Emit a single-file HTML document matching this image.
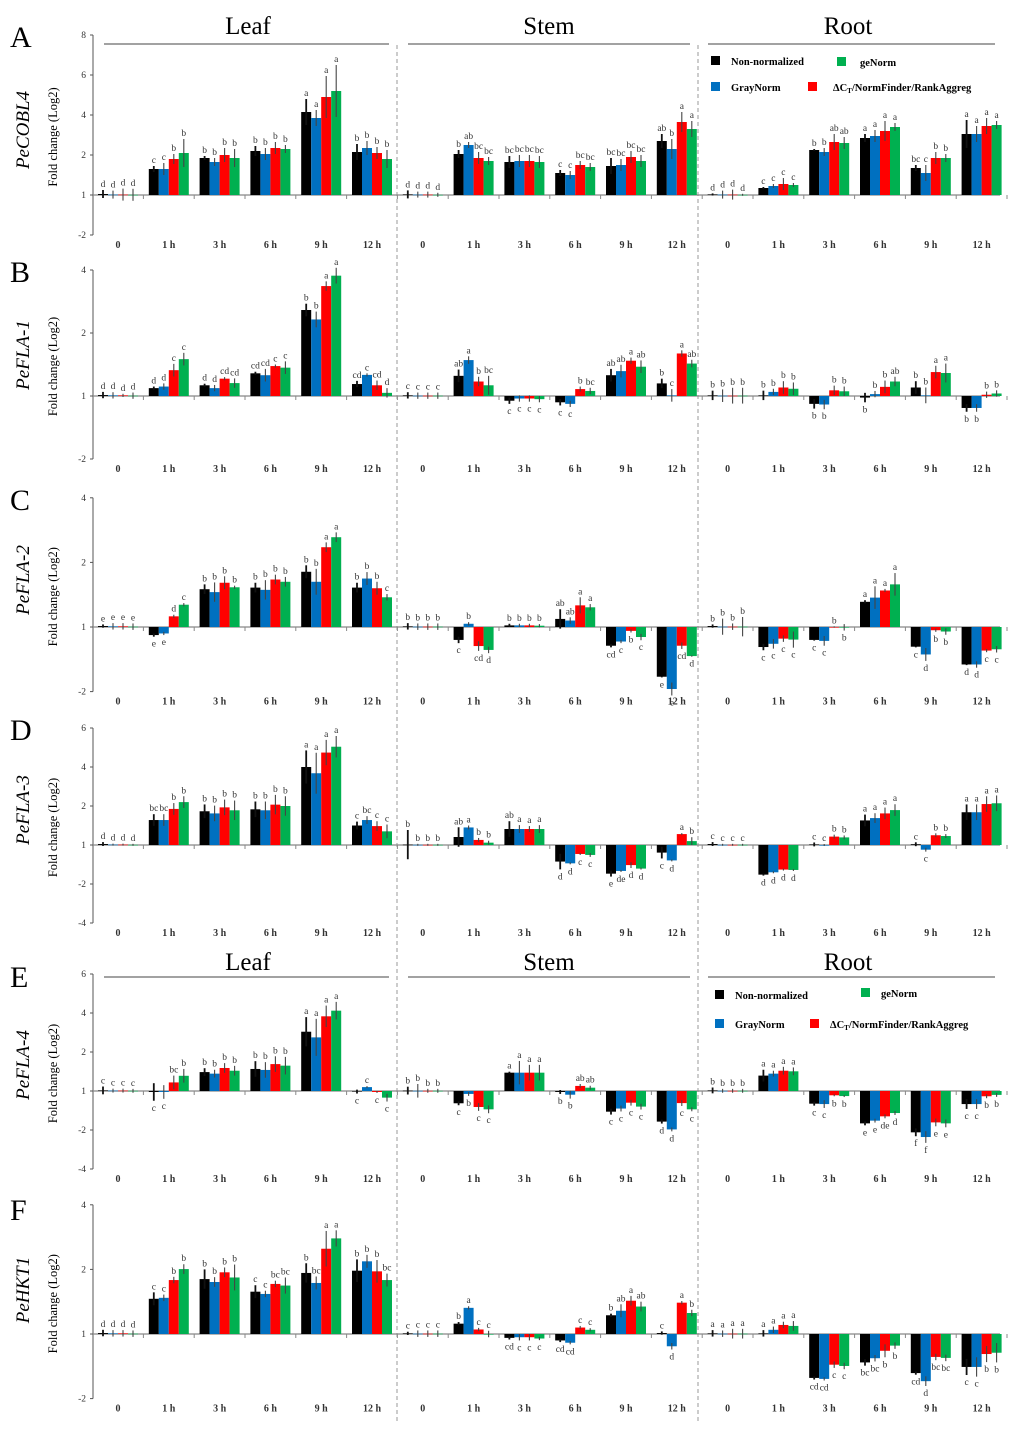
<!DOCTYPE html>
<html><head><meta charset="utf-8"><style>
html,body{margin:0;padding:0;background:#fff;}
svg{display:block;font-family:"Liberation Serif",serif;}
</style></head><body>
<svg id="fig" width="1024" height="1432" viewBox="0 0 1024 1432" xmlns="http://www.w3.org/2000/svg">
<g>
<text x="248" y="34" font-size="25" text-anchor="middle">Leaf</text>
<line x1="104" y1="44" x2="389" y2="44" stroke="#444" stroke-width="1"/>
<text x="549" y="34" font-size="25" text-anchor="middle">Stem</text>
<line x1="408" y1="44" x2="690" y2="44" stroke="#444" stroke-width="1"/>
<text x="848" y="34" font-size="25" text-anchor="middle">Root</text>
<line x1="708" y1="44" x2="995" y2="44" stroke="#444" stroke-width="1"/>
</g>
<g>
<text x="248" y="970" font-size="25" text-anchor="middle">Leaf</text>
<line x1="104" y1="977" x2="389" y2="977" stroke="#444" stroke-width="1"/>
<text x="549" y="970" font-size="25" text-anchor="middle">Stem</text>
<line x1="408" y1="977" x2="690" y2="977" stroke="#444" stroke-width="1"/>
<text x="848" y="970" font-size="25" text-anchor="middle">Root</text>
<line x1="708" y1="977" x2="995" y2="977" stroke="#444" stroke-width="1"/>
</g>
<line x1="397" y1="45" x2="397" y2="1422" stroke="#999" stroke-dasharray="4,3"/>
<line x1="698" y1="45" x2="698" y2="1422" stroke="#999" stroke-dasharray="4,3"/>
<g font-size="10.5" font-weight="bold">
<rect x="711" y="56" width="9" height="9" fill="#000"/><text x="731" y="65">Non-normalized</text>
<rect x="837" y="57" width="9" height="9" fill="#00b050"/><text x="860" y="66">geNorm</text>
<rect x="711" y="82" width="9" height="9" fill="#0070c0"/><text x="731" y="91">GrayNorm</text>
<rect x="808" y="82" width="9" height="9" fill="#ff0000"/><text x="833" y="91">ΔC<tspan font-size="7" dy="2">T</tspan><tspan dy="-2">/NormFinder/RankAggreg</tspan></text>
</g>
<g font-size="10.5" font-weight="bold">
<rect x="715" y="990" width="9" height="9" fill="#000"/><text x="735" y="999">Non-normalized</text>
<rect x="861" y="988" width="9" height="9" fill="#00b050"/><text x="881" y="997">geNorm</text>
<rect x="715" y="1019" width="9" height="9" fill="#0070c0"/><text x="735" y="1028">GrayNorm</text>
<rect x="810" y="1019" width="9" height="9" fill="#ff0000"/><text x="830" y="1028">ΔC<tspan font-size="7" dy="2">T</tspan><tspan dy="-2">/NormFinder/RankAggreg</tspan></text>
</g>
</svg>
<script>
// categories
const timeLabels = ["0","1 h","3 h","6 h","9 h","12 h","0","1 h","3 h","6 h","9 h","12 h","0","1 h","3 h","6 h","9 h","12 h"];
const seriesNames = ["non-normalized","graynorm","dct-normfinder-rankaggreg","genorm"];
const seriesColors = ["#000000","#0070c0","#ff0000","#00b050"];
const panelLetters = ["A","B","C","D","E","F"];
const geneNames = ["PeCOBL4","PeFLA-1","PeFLA-2","PeFLA-3","PeFLA-4","PeHKT1"];
// tick values and labels per panel
const tickValsA = [8,6,4,2,0,-2];  const tickLabA = ["8","6","4","2","1","-2"];
const tickValsB = [4,2,0,-2];      const tickLabB = ["4","2","1","-2"];
const tickValsD = [6,4,2,0,-2,-4]; const tickLabD = ["6","4","2","1","-2","-4"];
// values: per category [black, blue, red, green]
const valsA = [[0.05,0.02,0.02,0.01],[1.3,1.3,1.8,2.1],[1.85,1.65,2.0,1.85],[2.2,2.05,2.35,2.3],[4.15,3.85,4.9,5.2],[2.15,2.35,2.1,1.8],
 [0.03,0.02,0.02,0.01],[2.05,2.5,1.85,1.7],[1.65,1.7,1.7,1.65],[1.1,1.0,1.5,1.4],[1.45,1.5,1.9,1.7],[2.7,2.3,3.65,3.3],
 [0.03,0.02,0.02,0.01],[0.35,0.45,0.55,0.5],[2.25,2.15,2.65,2.6],[2.85,2.95,3.2,3.4],[1.35,1.1,1.85,1.85],[3.05,3.05,3.45,3.5]];
const valsB = [[0.03,0.02,0.02,0.01],[0.25,0.3,0.82,1.17],[0.34,0.25,0.55,0.41],[0.72,0.66,0.95,0.9],[2.73,2.43,3.49,3.82],[0.38,0.67,0.34,0.1],
 [0.02,0.01,0.01,0.01],[0.64,1.14,0.46,0.34],[-0.15,-0.08,-0.08,-0.1],[-0.2,-0.25,0.22,0.16],[0.66,0.79,1.12,0.93],[0.4,0.02,1.35,1.03],
 [0.02,0.01,0.01,0.01],[0.02,0.13,0.27,0.23],[-0.25,-0.27,0.18,0.15],[-0.05,0.06,0.29,0.46],[0.27,0.02,0.76,0.73],[-0.38,-0.38,0.04,0.08]];
const valsC = [[0.03,0.02,0.02,0.01],[-0.25,-0.2,0.33,0.69],[1.17,1.08,1.37,1.23],[1.22,1.15,1.47,1.4],[1.71,1.4,2.47,2.78],[1.22,1.5,1.2,0.92],
 [0.02,0.01,0.01,0.01],[-0.4,0.1,-0.59,-0.71],[0.05,0.05,0.05,0.04],[0.25,0.2,0.67,0.61],[-0.58,-0.45,-0.12,-0.31],[-1.54,-1.92,-0.58,-0.9],
 [0.03,0.01,0.01,0.01],[-0.62,-0.52,-0.36,-0.39],[-0.4,-0.43,0.0,-0.01],[0.78,0.91,1.13,1.32],[-0.61,-0.85,-0.1,-0.14],[-1.16,-1.16,-0.73,-0.69]];
const valsD = [[0.05,0.02,0.02,0.01],[1.28,1.28,1.85,2.2],[1.73,1.62,1.93,1.78],[1.83,1.78,2.07,2.0],[4.0,3.68,4.74,5.04],[1.0,1.28,0.97,0.7],
 [0.02,0.01,0.01,0.01],[0.41,0.9,0.26,0.12],[0.82,0.82,0.82,0.82],[-0.85,-0.94,-0.46,-0.51],[-1.47,-1.33,-1.03,-1.21],[-0.39,-0.79,0.56,0.2],
 [0.05,0.01,0.01,0.01],[-1.52,-1.4,-1.26,-1.28],[0.03,0.0,0.43,0.39],[1.26,1.38,1.62,1.79],[0.04,-0.24,0.5,0.46],[1.68,1.68,2.1,2.14]];
const valsE = [[0.03,0.02,0.02,0.01],[-0.05,-0.05,0.44,0.78],[0.97,0.89,1.18,1.04],[1.13,1.08,1.38,1.3],[3.04,2.75,3.83,4.12],[-0.03,0.2,-0.05,-0.34],
 [0.02,0.01,0.01,0.01],[-0.63,-0.15,-0.82,-0.94],[0.94,0.94,0.94,0.94],[-0.05,-0.19,0.26,0.17],[-1.06,-0.9,-0.6,-0.8],[-1.57,-1.97,-0.62,-0.94],
 [0.03,0.01,0.01,0.01],[0.79,0.89,1.04,1.01],[-0.65,-0.67,-0.22,-0.26],[-1.66,-1.52,-1.3,-1.13],[-2.12,-2.36,-1.61,-1.66],[-0.67,-0.67,-0.27,-0.2]];
const valsF = [[0.03,0.02,0.02,0.01],[1.09,1.12,1.67,2.01],[1.7,1.61,1.91,1.75],[1.31,1.24,1.55,1.5],[1.89,1.58,2.64,2.96],[1.96,2.25,1.94,1.67],
 [0.02,0.01,0.01,0.01],[0.32,0.81,0.14,0.0],[-0.12,-0.1,-0.1,-0.14],[-0.2,-0.27,0.2,0.13],[0.58,0.72,1.03,0.85],[0.03,-0.38,0.97,0.65],
 [0.02,0.01,0.01,0.01],[0.02,0.13,0.28,0.25],[-1.36,-1.39,-0.95,-0.99],[-0.88,-0.75,-0.52,-0.36],[-1.21,-1.46,-0.71,-0.74],[-1.02,-1.02,-0.62,-0.58]];
// error bar half-lengths
const errA = [[0.2,0.2,0.3,0.3],[0.15,0.3,0.25,0.7],[0.1,0.2,0.35,0.45],[0.25,0.3,0.3,0.2],[0.65,0.4,1.05,1.3],[0.4,0.35,0.3,0.45],
 [0.2,0.15,0.15,0.1],[0.2,0.15,0.3,0.2],[0.3,0.3,0.3,0.3],[0.15,0.2,0.2,0.2],[0.4,0.3,0.3,0.3],[0.35,0.5,0.5,0.4],
 [0.05,0.2,0.25,0.05],[0.05,0.1,0.3,0.1],[0.05,0.2,0.4,0.3],[0.2,0.3,0.5,0.2],[0.15,0.4,0.3,0.2],[0.7,0.4,0.4,0.2]];
const errB = [[0.1,0.1,0.05,0.1],[0.05,0.1,0.2,0.2],[0.05,0.1,0.05,0.15],[0.05,0.2,0.05,0.2],[0.2,0.25,0.15,0.25],[0.1,0.05,0.15,0.15],
 [0.1,0.1,0.1,0.1],[0.2,0.12,0.15,0.3],[0.1,0.1,0.1,0.1],[0.1,0.1,0.08,0.1],[0.2,0.2,0.1,0.2],[0.15,0.2,0.1,0.12],
 [0.15,0.2,0.25,0.25],[0.15,0.1,0.2,0.2],[0.15,0.15,0.15,0.15],[0.15,0.1,0.2,0.15],[0.2,0.25,0.2,0.3],[0.12,0.12,0.1,0.1]];
const errC = [[0.05,0.1,0.1,0.1],[0.05,0.05,0.05,0.05],[0.15,0.3,0.2,0.05],[0.15,0.3,0.15,0.15],[0.2,0.4,0.15,0.15],[0.15,0.2,0.2,0.1],
 [0.1,0.1,0.1,0.1],[0.1,0.05,0.15,0.1],[0.05,0.05,0.05,0.05],[0.3,0.1,0.25,0.1],[0.05,0.05,0.05,0.1],[0.02,0.2,0.1,0.02],
 [0.05,0.25,0.1,0.3],[0.1,0.15,0.1,0.25],[0.02,0.15,0.02,0.1],[0.05,0.35,0.05,0.35],[0.02,0.2,0.05,0.1],[0.02,0.1,0.05,0.1]];
const errD = [[0.1,0.05,0.05,0.05],[0.3,0.3,0.3,0.3],[0.35,0.4,0.4,0.5],[0.4,0.45,0.5,0.5],[0.85,1.05,0.65,0.55],[0.2,0.2,0.25,0.35],
 [0.75,0.05,0.05,0.05],[0.5,0.1,0.1,0.1],[0.4,0.2,0.15,0.2],[0.4,0.05,0.05,0.1],[0.15,0.05,0.15,0.05],[0.3,0.05,0.05,0.2],
 [0.1,0.05,0.05,0.05],[0.05,0.05,0.05,0.05],[0.1,0.05,0.1,0.1],[0.3,0.25,0.3,0.3],[0.1,0.1,0.1,0.1],[0.4,0.4,0.4,0.4]];
const errE = [[0.2,0.1,0.1,0.1],[0.45,0.35,0.35,0.35],[0.2,0.2,0.25,0.25],[0.4,0.4,0.4,0.45],[0.75,0.95,0.55,0.45],[0.1,0.05,0.05,0.2],
 [0.2,0.35,0.1,0.1],[0.1,0.1,0.2,0.2],[0.05,0.6,0.4,0.4],[0.1,0.2,0.1,0.1],[0.15,0.15,0.15,0.15],[0.1,0.1,0.15,0.1],
 [0.15,0.1,0.1,0.1],[0.3,0.15,0.2,0.2],[0.1,0.2,0.05,0.05],[0.1,0.1,0.1,0.1],[0.2,0.3,0.2,0.2],[0.25,0.25,0.1,0.1]];
const errF = [[0.1,0.1,0.1,0.1],[0.2,0.1,0.1,0.15],[0.3,0.15,0.15,0.4],[0.2,0.1,0.1,0.25],[0.3,0.2,0.55,0.25],[0.35,0.2,0.35,0.2],
 [0.05,0.1,0.1,0.1],[0.05,0.05,0.05,0.1],[0.05,0.1,0.1,0.05],[0.05,0.05,0.05,0.05],[0.05,0.2,0.15,0.15],[0.05,0.1,0.05,0.1],
 [0.1,0.1,0.15,0.15],[0.1,0.1,0.1,0.15],[0.05,0.05,0.1,0.1],[0.1,0.1,0.2,0.1],[0.05,0.15,0.1,0.1],[0.25,0.3,0.25,0.3]];
// significance letters
const letA = "d d d d c c b b b b b b b b b b a a a a b b b b d d d d b ab bc bc bc bc bc bc c c bc bc bc bc bc bc ab b a a d d d d c c c c b b ab ab a a a a bc c b b a a a a".split(" ");
const letB = "d d d d d d c c d d cd cd cd cd c c b b a a cd c cd d c c c c ab a b bc c c c c c c b bc ab ab a ab b c a ab b b b b b b b b b b b b b b b ab b b a a b b b b".split(" ");
const letC = "e e e e e e d c b b b b b b b b b b a a b b b c b b b b c b cd d b b b b ab ab a a cd c b c e e cd d b b b b c c c c c c b b a a a a c d b b d d c c".split(" ");
const letD = "d d d d bc bc b b b b b b b b b b a a a a c bc c c b b b b ab a b b ab a a a d d c c e de d d c d a b c c c c d d d d c c b b a a a a c c b b a a a a".split(" ");
const letE = "c c c c c c bc b b b b b b b b b a a a a c c c c b b b b c b c c a a a a b b ab ab c c c c d d c c b b b b a a a a c c b b e e de d f f e e c c b b".split(" ");
const letF = "d d d d c c b b b b b b c c bc bc b bc a a b b b bc c c c c b a c c cd c c c cd cd c c b ab a ab c d a b a a a a a a a a cd cd c c bc bc b b cd d bc bc c c b b".split(" ");

const panelVals = [valsA,valsB,valsC,valsD,valsE,valsF];
const panelErr = [errA,errB,errC,errD,errE,errF];
const panelLet = [letA,letB,letC,letD,letE,letF];
const panelTickVals = [tickValsA,tickValsB,tickValsB,tickValsD,tickValsD,tickValsB];
const panelTickLab = [tickLabA,tickLabB,tickLabB,tickLabD,tickLabD,tickLabB];
// layout (not data)
const layout = [
 {y0:195, s:20.0, lt:47, gy:130},
 {y0:396, s:31.5, lt:282, gy:355},
 {y0:627, s:32.3, lt:510, gy:580},
 {y0:845, s:19.5, lt:740, gy:810},
 {y0:1091,s:19.5, lt:987, gy:1065},
 {y0:1334,s:32.3, lt:1220, gy:1290}
];
const NS="http://www.w3.org/2000/svg";
const svg=document.getElementById('fig');
function mk(tag,attrs,parent){const e=document.createElementNS(NS,tag);for(const k in attrs)e.setAttribute(k,attrs[k]);(parent||svg).appendChild(e);return e;}
function xCat(i){return 118+i*50.8;}

panelVals.forEach((vals,p)=>{
  const L=layout[p];
  const yS=v=>L.y0-v*L.s;
  const g=mk('g',{});
  
  
  const tv=panelTickVals[p], tl=panelTickLab[p];
  const top=yS(tv[0]), bot=yS(tv[tv.length-1]);
  const pl=mk('text',{x:10,y:L.lt,'font-size':30},g); pl.textContent=panelLetters[p];
  
  
  const gn=mk('text',{x:0,y:0,'font-size':19,'font-style':'italic','text-anchor':'middle',transform:`translate(29,${L.gy}) rotate(-90)`},g); gn.textContent=geneNames[p];
  
  
  const yt=mk('text',{x:0,y:0,'font-size':12.5,'text-anchor':'middle',transform:`translate(57,${(top+bot)/2+2}) rotate(-90)`},g); yt.textContent='Fold change  (Log2)';
  
  
  const ax=mk('line',{x1:93,y1:top,x2:93,y2:bot,stroke:'#555','stroke-width':1},g);
  
  
  tv.forEach((v,k)=>{
    mk('line',{x1:90,y1:yS(v),x2:93,y2:yS(v),stroke:'#555'},g);
    const t=mk('text',{x:86,y:yS(v)+3,'font-size':9.5,'text-anchor':'end',fill:'#333'},g); t.textContent=tl[k];
    
    
  });
  const bl=mk('line',{x1:93,y1:L.y0,x2:1000,y2:L.y0,stroke:'#888','stroke-width':1.2},g);
  
  
  for(let i=0;i<18;i++){
    mk('line',{x1:xCat(i)+25.4,y1:L.y0,x2:xCat(i)+25.4,y2:L.y0+4,stroke:'#888'},g);
    const xl=mk('text',{x:xCat(i),y:bot+13,'font-size':10,'font-weight':'bold','text-anchor':'middle',fill:'#333'},g); xl.textContent=timeLabels[i];
    
    
    vals[i].forEach((v,k)=>{
      const x=xCat(i)-20+k*10, cx=x+5;
      const y1=Math.min(yS(v),L.y0), h=Math.abs(yS(v)-L.y0);
      const r=mk('rect',{x:x,y:y1,width:10,height:Math.max(h,0.6),fill:seriesColors[k]},g);
      
      
      const e=panelErr[p][i][k];
      const el=mk('line',{x1:cx,y1:yS(v+e),x2:cx,y2:yS(v-e),stroke:k===0?'#111':'#444','stroke-width':k===0?1.8:1.1},g);
      
      
      const lt=panelLet[p][i*4+k];
      const ly = v>=0 ? yS(v+e)-3 : yS(v-e)+10;
      const t=mk('text',{x:cx,y:ly,'font-size':9.5,'text-anchor':'middle',fill:'#333'},g); t.textContent=lt;
      
      
    });
  }
});
</script>
</body></html>
